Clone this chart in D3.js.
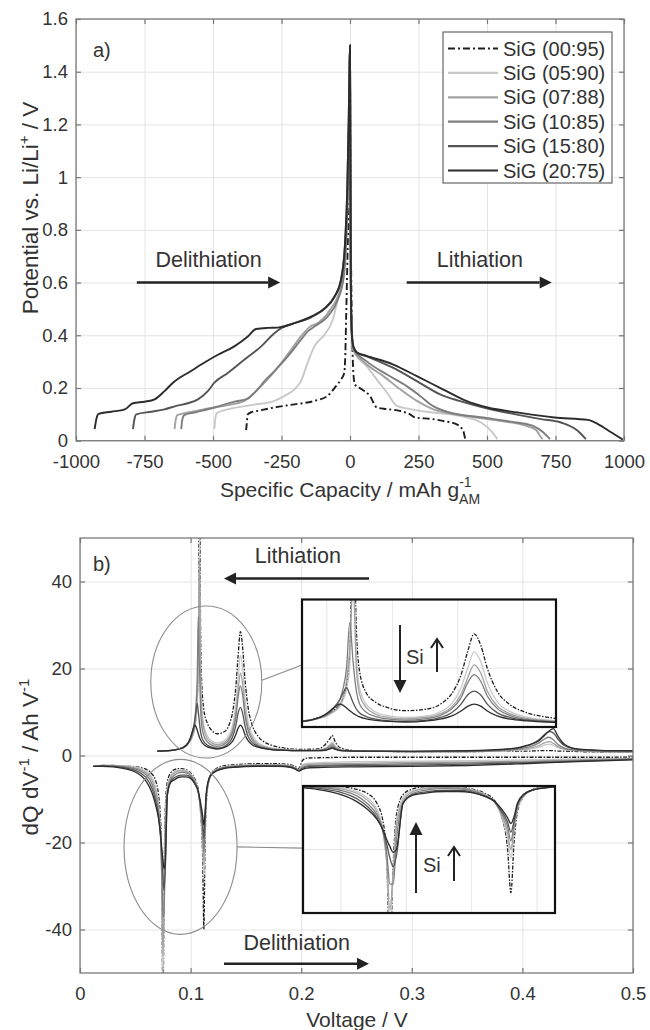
<!DOCTYPE html>
<html>
<head>
<meta charset="utf-8">
<script src="https://cdn.jsdelivr.net/npm/d3@7"></script>
<style>
  body { margin: 0; background: #fff; }
  svg { display: block; font-family: "Liberation Sans", Arial, sans-serif; }
</style>
</head>
<body>
<svg id="chart" width="650" height="1030"></svg>
<script>
//Series names + styles
const seriesNames = ["SiG (00:95)", "SiG (05:90)", "SiG (07:88)", "SiG (10:85)", "SiG (15:80)", "SiG (20:75)"];
const lineColors = ["#1e1e1e", "#c8c8c8", "#a2a2a2", "#7e7e7e", "#545454", "#2c2c2c"];
const lineDash = ["7,3,2,3", null, null, null, null, null];

//Panel a) ticks
const capTicks = [-1000, -750, -500, -250, 0, 250, 500, 750, 1000];
const potTicks = [0, 0.2, 0.4, 0.6, 0.8, 1, 1.2, 1.4, 1.6];

//Panel a) profiles: [capacity mAh/g, potential V], delithiation (<0) -> lithiation (>0)
const galv0095 = [[-379,0.04],[-377,0.063],[-373,0.10],[-360,0.108],[-337,0.113],[-276,0.126],[-203,0.138],[-130,0.151],[-82,0.17],[-51,0.207],[-33,0.232],[-21,0.257],[-17,0.33],[-14,0.47],[-10,0.66],[-6,0.85],[-3,1.05],[0,1.35],[3,0.8],[6,0.5],[9,0.35],[12,0.26],[18,0.213],[43,0.195],[73,0.169],[98,0.126],[135,0.12],[182,0.113],[219,0.10],[238,0.088],[302,0.082],[339,0.075],[388,0.063],[413,0.038],[419,0.013],[421,0.003]];
const galv0590 = [[-495,0.044],[-492,0.08],[-486,0.105],[-446,0.119],[-361,0.135],[-276,0.151],[-239,0.17],[-203,0.195],[-179,0.226],[-155,0.295],[-130,0.358],[-93,0.402],[-63,0.459],[-45,0.534],[-27,0.62],[-15,0.75],[-8,0.95],[-4,1.2],[-2,1.4],[0,1.5],[1,1.2],[2,0.9],[3,0.6],[6,0.42],[12,0.345],[61,0.282],[98,0.232],[135,0.182],[171,0.132],[219,0.12],[302,0.107],[399,0.094],[478,0.069],[514,0.038],[538,0.006]];
const galv0788 = [[-640,0.044],[-636,0.08],[-630,0.097],[-592,0.107],[-519,0.122],[-446,0.135],[-385,0.151],[-349,0.182],[-312,0.22],[-264,0.277],[-215,0.345],[-179,0.396],[-149,0.43],[-112,0.45],[-69,0.502],[-38,0.571],[-20,0.68],[-11,0.85],[-6,1.05],[-3,1.25],[-1,1.4],[0,1.5],[1,1.2],[2,0.9],[3,0.6],[6,0.42],[12,0.345],[55,0.295],[122,0.245],[183,0.195],[244,0.151],[302,0.12],[424,0.094],[546,0.075],[644,0.056],[680,0.04],[693,0.019],[703,0.006]];
const galv1085 = [[-616,0.044],[-612,0.08],[-605,0.097],[-567,0.107],[-495,0.126],[-422,0.148],[-373,0.16],[-337,0.195],[-312,0.226],[-276,0.264],[-227,0.32],[-179,0.383],[-155,0.414],[-130,0.433],[-82,0.471],[-45,0.534],[-23,0.62],[-14,0.75],[-8,0.95],[-4,1.2],[-2,1.4],[0,1.5],[1,1.2],[2,0.9],[3,0.6],[6,0.42],[12,0.35],[61,0.301],[135,0.251],[207,0.207],[256,0.17],[302,0.132],[363,0.107],[485,0.088],[607,0.069],[668,0.056],[705,0.032],[730,0.006]];
const galv1580 = [[-792,0.044],[-786,0.085],[-780,0.10],[-725,0.11],[-677,0.119],[-634,0.132],[-592,0.142],[-555,0.157],[-519,0.188],[-495,0.22],[-446,0.257],[-385,0.308],[-324,0.358],[-276,0.408],[-246,0.43],[-203,0.446],[-142,0.468],[-93,0.50],[-57,0.545],[-33,0.61],[-18,0.75],[-10,0.95],[-5,1.2],[-2,1.4],[0,1.5],[1,1.2],[2,0.9],[3,0.6],[6,0.42],[12,0.355],[25,0.335],[61,0.32],[158,0.276],[244,0.226],[329,0.176],[399,0.151],[502,0.122],[600,0.101],[697,0.082],[770,0.069],[831,0.038],[861,0.006]];
const galv2075 = [[-932,0.044],[-925,0.085],[-918,0.102],[-871,0.11],[-822,0.119],[-792,0.142],[-750,0.148],[-713,0.157],[-677,0.188],[-646,0.22],[-622,0.239],[-592,0.257],[-543,0.289],[-482,0.326],[-422,0.358],[-373,0.395],[-343,0.424],[-300,0.428],[-264,0.429],[-203,0.446],[-142,0.471],[-93,0.502],[-57,0.546],[-33,0.609],[-18,0.75],[-10,0.95],[-5,1.2],[-2,1.4],[0,1.5],[1,1.2],[2,0.9],[3,0.6],[6,0.42],[12,0.36],[25,0.335],[61,0.322],[158,0.289],[244,0.245],[339,0.195],[424,0.151],[502,0.126],[612,0.107],[746,0.088],[868,0.079],[905,0.063],[953,0.032],[996,0.004]];
const galvData = [galv0095, galv0590, galv0788, galv1085, galv1580, galv2075];

//Panel b) ticks
const voltTicks = [0, 0.1, 0.2, 0.3, 0.4, 0.5];
const dqdvTicks = [-40, -20, 0, 20, 40];

//Panel b) dQ/dV, positive branch (Ah/V) on voltLith
const voltLith = [0.070,0.080,0.090,0.095,0.098,0.100,0.102,0.104,0.105,0.106,0.107,0.108,0.109,0.110,0.112,0.115,0.119,0.124,0.130,0.135,0.138,0.141,0.143,0.145,0.147,0.149,0.152,0.156,0.161,0.168,0.175,0.185,0.200,0.215,0.222,0.226,0.228,0.231,0.236,0.250,0.300,0.350,0.390,0.405,0.415,0.420,0.424,0.428,0.432,0.438,0.450,0.470,0.500];
const lith0095 = [1.0,1.1,1.6,2.2,3.0,3.8,5.0,7.0,9.0,13,22,70,30,17,10.5,7.5,5.8,5.0,5.4,7.2,10,16,23,28.5,25,18,11,6.8,4.4,2.9,2.2,1.7,1.4,1.5,2.6,3.9,4.6,3.0,1.7,1.1,0.9,0.9,1.0,1.0,1.1,1.1,1.1,1.1,1.0,1.0,0.9,0.8,0.7];
const lith0590 = [1.0,1.1,1.5,2.0,2.7,3.4,4.5,6.3,8.3,11.5,19,50,22,12,7.0,4.6,3.4,2.9,3.3,4.8,7.0,12,18,23,20,13.5,7.8,4.7,3.0,2.1,1.7,1.4,1.2,1.2,1.7,2.6,3.1,2.1,1.4,1.0,0.9,0.9,1.1,1.4,1.9,2.4,2.6,2.3,1.8,1.4,1.1,0.9,0.8];
const lith0788 = [1.0,1.1,1.5,2.0,2.8,3.5,4.8,6.8,9.5,14,24,45,18,10,6.0,3.9,2.9,2.5,2.9,4.2,6.0,10,15,19,16.5,11,6.5,4.0,2.6,1.9,1.5,1.3,1.2,1.2,1.6,2.3,2.7,1.9,1.3,1.0,0.9,0.9,1.2,1.6,2.3,2.9,3.2,2.8,2.1,1.5,1.1,0.9,0.8];
const lith1085 = [1.0,1.1,1.5,2.1,3.0,3.9,5.5,8.5,12,18,32,20,11,7.0,4.5,3.2,2.4,2.1,2.5,3.7,5.4,9,13.5,16,14,9.5,5.7,3.5,2.3,1.7,1.4,1.2,1.1,1.2,1.5,2.0,2.3,1.7,1.2,1.0,0.9,0.9,1.3,1.9,2.9,3.8,4.2,3.6,2.6,1.7,1.2,1.0,0.9];
const lith1580 = [1.0,1.1,1.5,2.1,3.0,4.0,5.8,8.5,10.5,12,10,7.5,5.5,4.3,3.2,2.4,1.9,1.7,2.0,3.0,4.3,7.0,9.8,11,9.8,7.0,4.4,2.9,2.1,1.6,1.3,1.2,1.1,1.1,1.3,1.7,1.9,1.5,1.1,1.0,0.9,1.0,1.5,2.3,3.6,4.8,5.5,5.2,3.8,2.3,1.4,1.1,1.0];
const lith2075 = [1.0,1.1,1.5,2.1,3.0,4.2,5.8,7.0,6.6,5.8,5.0,4.2,3.6,3.1,2.5,2.0,1.7,1.5,1.8,2.5,3.3,4.9,6.3,7.0,6.4,4.9,3.4,2.4,1.9,1.5,1.3,1.2,1.1,1.1,1.2,1.5,1.7,1.4,1.1,1.0,1.0,1.1,1.6,2.4,3.4,4.6,5.6,6.2,4.5,2.6,1.5,1.2,1.1];
const lithData = [lith0095, lith0590, lith0788, lith1085, lith1580, lith2075];

//Panel b) dQ/dV, negative branch (Ah/V) on voltDelith
const voltDelith = [0.012,0.020,0.030,0.040,0.050,0.055,0.060,0.065,0.068,0.071,0.073,0.074,0.075,0.076,0.077,0.079,0.082,0.086,0.089,0.092,0.096,0.100,0.104,0.107,0.109,0.111,0.112,0.113,0.114,0.116,0.119,0.124,0.130,0.140,0.160,0.180,0.190,0.195,0.198,0.201,0.205,0.220,0.250,0.300,0.350,0.400,0.450,0.500];
const delith0095 = [-2.5,-2.3,-2.3,-2.4,-2.6,-2.8,-3.2,-4.2,-5.5,-9,-16,-28,-62,-30,-13,-6.0,-4.0,-3.2,-3.0,-3.0,-3.3,-4.0,-5.5,-8,-13,-25,-40,-22,-12,-6.5,-4.0,-2.9,-2.4,-2.1,-1.9,-1.9,-2.1,-2.6,-3.0,-1.2,-0.6,-0.5,-0.4,-0.4,-0.4,-0.4,-0.4,-0.4];
const delith0590 = [-2.5,-2.3,-2.3,-2.4,-2.7,-3.0,-3.6,-5.0,-7,-11,-19,-30,-52,-32,-15,-7.0,-4.6,-3.6,-3.4,-3.3,-3.5,-4.2,-5.8,-8.5,-13,-21,-28,-18,-11,-6.5,-4.2,-3.1,-2.6,-2.3,-2.1,-2.1,-2.3,-2.8,-3.2,-2.2,-1.8,-1.6,-1.4,-1.3,-1.2,-1.0,-0.8,-0.6];
const delith0788 = [-2.5,-2.3,-2.4,-2.5,-2.9,-3.3,-4.0,-5.6,-7.8,-12,-20,-29,-46,-33,-17,-8.0,-5.0,-3.9,-3.6,-3.5,-3.7,-4.4,-6.0,-8.5,-12.5,-19,-25,-17,-10.5,-6.3,-4.2,-3.2,-2.7,-2.4,-2.2,-2.2,-2.4,-2.9,-3.3,-2.5,-2.1,-1.9,-1.8,-1.6,-1.5,-1.3,-1.0,-0.7];
const delith1085 = [-2.5,-2.4,-2.4,-2.6,-3.1,-3.6,-4.5,-6.5,-9,-13,-19,-26,-37,-37,-22,-9.0,-5.6,-4.4,-4.0,-3.9,-4.0,-4.6,-6.2,-8.5,-12,-17,-22,-16,-10,-6.2,-4.3,-3.3,-2.8,-2.5,-2.3,-2.3,-2.5,-3.0,-3.4,-2.8,-2.4,-2.2,-2.1,-1.9,-1.7,-1.5,-1.2,-0.8];
const delith1580 = [-2.5,-2.4,-2.5,-2.8,-3.4,-4.1,-5.2,-7.5,-10,-14,-19,-23,-28,-31,-27,-9.0,-6.0,-5.0,-4.6,-4.5,-4.5,-5.0,-6.5,-8.5,-11.5,-15.5,-19,-15,-9.5,-6.0,-4.3,-3.4,-2.9,-2.6,-2.4,-2.4,-2.6,-3.1,-3.5,-3.0,-2.6,-2.4,-2.3,-2.2,-2.0,-1.7,-1.3,-0.9];
const delith2075 = [-2.5,-2.5,-2.6,-3.0,-3.8,-4.6,-6.0,-8.5,-11,-14.5,-18.5,-21.5,-24,-26,-25,-9.0,-6.2,-5.5,-5.0,-4.9,-4.9,-5.3,-6.6,-8.3,-10.8,-14,-16,-13.5,-9,-5.8,-4.3,-3.5,-3.0,-2.7,-2.5,-2.5,-2.7,-3.2,-3.6,-3.2,-2.9,-2.7,-2.6,-2.5,-2.3,-1.9,-1.4,-1.0];
const delithData = [delith0095, delith0590, delith0788, delith1085, delith1580, delith2075];

//Chart Setup
const svg = d3.select("#chart");
const font = "'Liberation Sans', Arial, sans-serif";
const textColor = "#333";

//Scales
const xA = d3.scaleLinear().domain([-1000, 1000]).range([76, 624]);
const yA = d3.scaleLinear().domain([0, 1.6]).range([440.7, 19]);
const xB = d3.scaleLinear().domain([0, 0.5]).range([80, 633]);
const yB = d3.scaleLinear().domain([-50, 50]).range([973, 538]);
//insets
const xI1 = d3.scaleLinear().domain([0.0924, 0.170]).range([302, 556]);
const yI1 = d3.scaleLinear().domain([0, 39]).range([727, 599.5]);
const xI2 = d3.scaleLinear().domain([0.0484, 0.1255]).range([303, 555]);
const yI2 = d3.scaleLinear().domain([-47, -3]).range([913, 786]);

const fmt = d => String(+d.toFixed(1));

//Axes helper: grid + inner ticks on 4 sides + labels
function drawAxes(x, y, xTicks, yTicks, padX) {
  const [x0, x1] = x.range();
  const [yb, yt] = y.range();
  const g = svg.append("g");

  g.append("g").attr("transform", `translate(0,${yb})`)
   .call(d3.axisBottom(x).tickValues(xTicks).tickSize(yt - yb).tickFormat(""))
   .call(s => { s.select(".domain").remove(); s.selectAll("line").attr("stroke", "#e4e4e4"); });
  g.append("g").attr("transform", `translate(${x0},0)`)
   .call(d3.axisLeft(y).tickValues(yTicks).tickSize(x0 - x1).tickFormat(""))
   .call(s => { s.select(".domain").remove(); s.selectAll("line").attr("stroke", "#e4e4e4"); });

  const styleAxis = s => {
    s.select(".domain").remove();
    s.selectAll("line").attr("stroke", "#777").attr("stroke-width", 1.2);
    s.selectAll("text").attr("fill", textColor).attr("font-size", 18.5).attr("font-family", font);
  };
  g.append("g").attr("transform", `translate(0,${yb})`)
   .call(d3.axisBottom(x).tickValues(xTicks).tickSize(-5).tickPadding(padX).tickFormat(fmt)).call(styleAxis);
  g.append("g").attr("transform", `translate(0,${yt})`)
   .call(d3.axisTop(x).tickValues(xTicks).tickSize(-5).tickFormat("")).call(styleAxis);
  g.append("g").attr("transform", `translate(${x0},0)`)
   .call(d3.axisLeft(y).tickValues(yTicks).tickSize(-5).tickPadding(8).tickFormat(fmt)).call(styleAxis);
  g.append("g").attr("transform", `translate(${x1},0)`)
   .call(d3.axisRight(y).tickValues(yTicks).tickSize(-5).tickFormat("")).call(styleAxis);
  return g;
}

function drawFrame(x, y, color, width) {
  const [x0, x1] = x.range();
  const [yb, yt] = y.range();
  svg.append("rect").attr("x", x0).attr("y", yt).attr("width", x1 - x0).attr("height", yb - yt)
     .attr("fill", "none").attr("stroke", color).attr("stroke-width", width);
}

function clipFor(id, x, y) {
  const [x0, x1] = x.range();
  const [yb, yt] = y.range();
  svg.append("clipPath").attr("id", id).append("rect")
     .attr("x", x0).attr("y", yt).attr("width", x1 - x0).attr("height", yb - yt);
  return `url(#${id})`;
}

function arrow(g, x1, y1, x2, y2, len, half, width) {
  const a = Math.atan2(y2 - y1, x2 - x1);
  const bx = x2 - len * Math.cos(a), by = y2 - len * Math.sin(a);
  g.append("line").attr("x1", x1).attr("y1", y1).attr("x2", bx).attr("y2", by)
   .attr("stroke", "#222").attr("stroke-width", width);
  g.append("path")
   .attr("d", `M${x2},${y2}L${bx + half * Math.sin(a)},${by - half * Math.cos(a)}L${bx - half * Math.sin(a)},${by + half * Math.cos(a)}Z`)
   .attr("fill", "#222");
}

function thinArrow(g, x, yBottom, yTop) {
  g.append("path")
   .attr("d", `M${x},${yBottom}L${x},${yTop}M${x - 6},${yTop + 9}L${x},${yTop}L${x + 6},${yTop + 9}`)
   .attr("fill", "none").attr("stroke", "#222").attr("stroke-width", 2);
}

/* ================= Panel a) ================= */
drawAxes(xA, yA, capTicks, potTicks, 14);

const lineA = d3.line().x(d => xA(d[0])).y(d => yA(d[1])).curve(d3.curveMonotoneX);
const clipA = clipFor("clipA", xA, yA);
svg.append("g").attr("clip-path", clipA)
   .selectAll("path").data(galvData).enter().append("path")
   .attr("d", lineA)
   .attr("fill", "none")
   .attr("stroke", (d, i) => lineColors[i])
   .attr("stroke-width", 1.9)
   .attr("stroke-dasharray", (d, i) => lineDash[i]);
drawFrame(xA, yA, "#7a7a7a", 1.3);

//Annotations
svg.append("text").attr("x", 93).attr("y", 57).attr("font-size", 20).attr("fill", textColor).text("a)");
const annA = svg.append("g");
annA.append("text").attr("x", xA(-516)).attr("y", yA(0.66)).attr("text-anchor", "middle")
    .attr("font-size", 21.5).attr("fill", textColor).text("Delithiation");
annA.append("text").attr("x", xA(474)).attr("y", yA(0.66)).attr("text-anchor", "middle")
    .attr("font-size", 21.5).attr("fill", textColor).text("Lithiation");
arrow(annA, xA(-778), yA(0.6), xA(-255), yA(0.6), 12, 6, 2.5);
arrow(annA, xA(207), yA(0.6), xA(736), yA(0.6), 12, 6, 2.5);

//Legend
const legend = svg.append("g");
legend.append("rect").attr("x", 443).attr("y", 32).attr("width", 169).attr("height", 151)
      .attr("fill", "#fff").attr("stroke", "#666").attr("stroke-width", 1.2);
const legendRow = legend.selectAll(".row").data(seriesNames).enter().append("g")
      .attr("transform", (d, i) => `translate(0,${48.5 + i * 24.4})`);
legendRow.append("line").attr("x1", 448).attr("x2", 498)
      .attr("stroke", (d, i) => lineColors[i]).attr("stroke-width", 2.2)
      .attr("stroke-dasharray", (d, i) => lineDash[i]);
legendRow.append("text").attr("x", 503).attr("y", 7).attr("font-size", 20).attr("fill", textColor).text(d => d);

//Axis labels
const xLabA = svg.append("text").attr("x", 350).attr("y", 497).attr("text-anchor", "middle")
   .attr("font-size", 21).attr("fill", textColor);
xLabA.append("tspan").text("Specific Capacity / mAh g");
xLabA.append("tspan").attr("font-size", 14).attr("dy", -10).text("-1");
xLabA.append("tspan").attr("font-size", 14).attr("dx", -12.5).attr("dy", 17).text("AM");

const yLabA = svg.append("text").attr("transform", "translate(38,208) rotate(-90)").attr("text-anchor", "middle")
   .attr("font-size", 22.5).attr("fill", textColor);
yLabA.append("tspan").text("Potential vs. Li/Li");
yLabA.append("tspan").attr("font-size", 15).attr("dy", -9).text("+");
yLabA.append("tspan").attr("dy", 9).text(" / V");

/* ================= Panel b) ================= */
drawAxes(xB, yB, voltTicks, dqdvTicks, 14);

const lithLine = (xs, ys) => d3.line().x((d, i) => xs(voltLith[i])).y(d => ys(d)).curve(d3.curveMonotoneX);
const delithLine = (xs, ys) => d3.line().x((d, i) => xs(voltDelith[i])).y(d => ys(d)).curve(d3.curveMonotoneX);

function drawCurves(clip, xs, ys, width) {
  const g = svg.append("g").attr("clip-path", clip);
  [delithData, lithData].forEach((set, k) => {
    const gen = k === 0 ? delithLine(xs, ys) : lithLine(xs, ys);
    g.append("g").selectAll("path").data(set).enter().append("path")
     .attr("d", gen)
     .attr("fill", "none")
     .attr("stroke", (d, i) => lineColors[i])
     .attr("stroke-width", width)
     .attr("stroke-dasharray", (d, i) => lineDash[i] ? "4,1.5,1.5,1.5" : null);
  });
}
drawCurves(clipFor("clipB", xB, yB), xB, yB, 1.3);

//Ellipses + connectors
const deco = svg.append("g").attr("fill", "none").attr("stroke", "#8c8c8c").attr("stroke-width", 1.1);
deco.append("ellipse").attr("cx", xB(0.1142)).attr("cy", yB(16.9)).attr("rx", 55.5).attr("ry", 76);
deco.append("ellipse").attr("cx", xB(0.0909)).attr("cy", yB(-21)).attr("rx", 56.5).attr("ry", 87.5);
deco.append("line").attr("x1", xB(0.1645)).attr("y1", yB(17.3)).attr("x2", 302).attr("y2", yB(20.8));
deco.append("line").attr("x1", xB(0.1420)).attr("y1", yB(-21)).attr("x2", 303).attr("y2", yB(-21.3));

//Insets
function drawInset(x, y, xGrid, yGrid, id) {
  const [x0, x1] = x.range();
  const [yb, yt] = y.range();
  svg.append("rect").attr("x", x0).attr("y", yt).attr("width", x1 - x0).attr("height", yb - yt).attr("fill", "#fff");
  const grid = svg.append("g").attr("stroke", "#e6e6e6").attr("stroke-width", 1);
  grid.selectAll(".v").data(xGrid).enter().append("line")
      .attr("x1", d => x(d)).attr("x2", d => x(d)).attr("y1", yt).attr("y2", yb);
  grid.selectAll(".h").data(yGrid).enter().append("line")
      .attr("x1", x0).attr("x2", x1).attr("y1", d => y(d)).attr("y2", d => y(d));
  drawCurves(clipFor(id, x, y), x, y, 1.3);
  drawFrame(x, y, "#111", 2.2);
}
drawInset(xI1, yI1, [0.10, 0.12, 0.14, 0.16], [18], "clipI1");
drawInset(xI2, yI2, [0.06, 0.08, 0.10, 0.12], [-25], "clipI2");

drawFrame(xB, yB, "#7a7a7a", 1.3);

//Annotations b)
svg.append("text").attr("x", 93).attr("y", 571).attr("font-size", 20).attr("fill", textColor).text("b)");
const annB = svg.append("g");
annB.append("text").attr("x", xB(0.197)).attr("y", yB(44.2)).attr("text-anchor", "middle")
    .attr("font-size", 21.5).attr("fill", textColor).text("Lithiation");
annB.append("text").attr("x", xB(0.196)).attr("y", yB(-44.6)).attr("text-anchor", "middle")
    .attr("font-size", 21.5).attr("fill", textColor).text("Delithiation");
arrow(annB, xB(0.2613), yB(40.7), xB(0.1302), yB(40.7), 12, 6, 2.5);
arrow(annB, xB(0.1302), yB(-47.9), xB(0.2613), yB(-47.9), 12, 6, 2.5);

//Si arrows in insets
arrow(annB, 400, 625, 400, 693, 13, 6.5, 2);
annB.append("text").attr("x", 406).attr("y", 664).attr("font-size", 20).attr("fill", textColor).text("Si");
thinArrow(annB, 437, 672, 639);
arrow(annB, 416, 893, 416, 822, 13, 6.5, 2);
annB.append("text").attr("x", 423).attr("y", 872).attr("font-size", 20).attr("fill", textColor).text("Si");
thinArrow(annB, 454, 881, 847);

//Axis labels b)
svg.append("text").attr("x", 357).attr("y", 1027).attr("text-anchor", "middle")
   .attr("font-size", 21).attr("fill", textColor).text("Voltage / V");
const yLabB = svg.append("text").attr("transform", "translate(38,757) rotate(-90)").attr("text-anchor", "middle")
   .attr("font-size", 22.5).attr("fill", textColor);
yLabB.append("tspan").text("dQ dV");
yLabB.append("tspan").attr("font-size", 15).attr("dy", -9).text("-1");
yLabB.append("tspan").attr("dy", 9).text(" / Ah V");
yLabB.append("tspan").attr("font-size", 15).attr("dy", -9).text("-1");
</script>
</body>
</html>
